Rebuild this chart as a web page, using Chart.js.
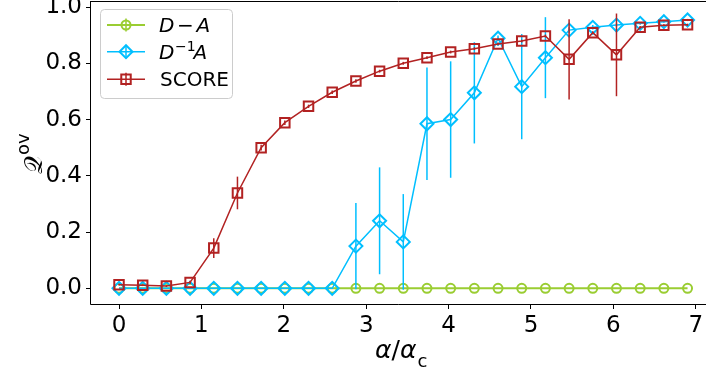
<!DOCTYPE html>
<html>
<head>
<meta charset="utf-8">
<script src="https://cdn.jsdelivr.net/npm/chart.js@4/dist/chart.umd.min.js"></script>
<style>
  html, body { margin: 0; padding: 0; background: #fff; }
  canvas { display: block; }
</style>
</head>
<body>
<canvas id="overlapChart" width="706" height="374"></canvas>
<script>
// alpha / alpha_c values (x positions of every sample)
const alphaRatio = [0, 0.2875, 0.575, 0.8625, 1.15, 1.4375, 1.725, 2.0125, 2.3, 2.5875,
  2.875, 3.1625, 3.45, 3.7375, 4.025, 4.3125, 4.6, 4.8875, 5.175, 5.4625,
  5.75, 6.0375, 6.325, 6.6125, 6.9];

// D - A
const laplacianQ = [0, 0, 0, 0, 0, 0, 0, 0, 0, 0, 0, 0, 0, 0, 0, 0, 0, 0, 0, 0, 0, 0, 0, 0, 0];
const laplacianErr = [0, 0, 0, 0, 0, 0, 0, 0, 0, 0, 0, 0, 0, 0, 0, 0, 0, 0, 0, 0, 0, 0, 0, 0, 0];

// D^-1 A
const randomWalkQ = [0, 0, 0, 0, 0, 0, 0, 0, 0, 0, 0.15, 0.24, 0.165, 0.585, 0.60, 0.695,
  0.889, 0.717, 0.82, 0.918, 0.928, 0.936, 0.942, 0.948, 0.954];
const randomWalkErr = [0, 0, 0, 0, 0, 0, 0, 0, 0, 0, 0.153, 0.19, 0.17, 0.20, 0.207, 0.18,
  0.01, 0.187, 0.144, 0.01, 0.008, 0.006, 0.005, 0.004, 0.004];

// SCORE
const scoreQ = [0.013, 0.011, 0.008, 0.021, 0.143, 0.339, 0.50, 0.589, 0.647, 0.697,
  0.737, 0.772, 0.80, 0.82, 0.84, 0.852, 0.869, 0.879, 0.897, 0.814,
  0.909, 0.83, 0.928, 0.935, 0.937];
const scoreErr = [0.003, 0.003, 0.003, 0.006, 0.035, 0.058, 0.01, 0.008, 0.006, 0.006,
  0.006, 0.005, 0.005, 0.005, 0.005, 0.005, 0.005, 0.005, 0.005, 0.143,
  0.005, 0.147, 0.005, 0.004, 0.004];

const xTicks = [0, 1, 2, 3, 4, 5, 6, 7];
const yTicks = [0, 0.2, 0.4, 0.6, 0.8, 1.0];

const GREEN = '#9acd32';
const BLUE = '#00bfff';
const RED = '#b22222';

function points(ys) {
  return alphaRatio.map((a, i) => ({ x: a, y: ys[i] }));
}

const seriesErr = [laplacianErr, randomWalkErr, scoreErr];

const data = {
  datasets: [{
    label: 'D − A',
    data: points(laplacianQ),
    borderColor: GREEN,
    borderWidth: 2,
    pointStyle: 'circle',
    pointRadius: 4.5,
    pointBorderWidth: 2,
    pointBorderColor: GREEN,
    pointBackgroundColor: 'rgba(0,0,0,0)',
    order: 3
  }, {
    label: 'D⁻¹A',
    data: points(randomWalkQ),
    borderColor: BLUE,
    borderWidth: 1.5,
    pointStyle: 'rectRot',
    pointRadius: 6.5,
    pointBorderWidth: 2,
    pointBorderColor: BLUE,
    pointBackgroundColor: 'rgba(0,0,0,0)',
    order: 2
  }, {
    label: 'SCORE',
    data: points(scoreQ),
    borderColor: RED,
    borderWidth: 1.5,
    pointStyle: 'rect',
    pointRadius: 6.7,
    pointBorderWidth: 2,
    pointBorderColor: RED,
    pointBackgroundColor: 'rgba(0,0,0,0)',
    order: 1
  }]
};

// vertical error bars, drawn just before each series
const errorBars = {
  id: 'errorBars',
  beforeDatasetDraw(chart, args) {
    const errs = seriesErr[args.index];
    const ds = chart.data.datasets[args.index];
    const xs = chart.scales.x, ys = chart.scales.y;
    const ctx = chart.ctx;
    ctx.save();
    ctx.beginPath();
    ctx.rect(chart.chartArea.left, chart.chartArea.top, chart.chartArea.width, chart.chartArea.height);
    ctx.clip();
    ctx.strokeStyle = ds.borderColor;
    ctx.lineWidth = 1.5;
    ds.data.forEach((p, i) => {
      const e = errs[i];
      if (!e) return;
      const px = xs.getPixelForValue(p.x);
      ctx.beginPath();
      ctx.moveTo(px, ys.getPixelForValue(p.y - e));
      ctx.lineTo(px, ys.getPixelForValue(p.y + e));
      ctx.stroke();
    });
    ctx.restore();
  }
};

function marker(ctx, style, x, y, r) {
  ctx.beginPath();
  if (style === 'circle') {
    ctx.arc(x, y, r, 0, Math.PI * 2);
  } else if (style === 'rectRot') {
    ctx.moveTo(x - r, y); ctx.lineTo(x, y - r); ctx.lineTo(x + r, y); ctx.lineTo(x, y + r); ctx.closePath();
  } else {
    const s = r * Math.SQRT1_2;
    ctx.rect(x - s, y - s, 2 * s, 2 * s);
  }
  ctx.stroke();
}

const decorations = {
  id: 'decorations',
  afterDraw(chart) {
    const ctx = chart.ctx;
    const a = chart.chartArea;
    ctx.save();
    // spines
    ctx.strokeStyle = '#000';
    ctx.lineWidth = 1;
    ctx.beginPath();
    ctx.moveTo(a.left - 0.5, a.top + 0.5);
    ctx.lineTo(a.right, a.top + 0.5);
    ctx.moveTo(a.left - 0.5, a.top);
    ctx.lineTo(a.left - 0.5, a.bottom + 0.5);
    ctx.lineTo(a.right, a.bottom + 0.5);
    ctx.stroke();

    // legend
    const lx = 100, ly = 9, lw = 132, lh = 89;
    ctx.fillStyle = 'rgba(255,255,255,0.8)';
    ctx.strokeStyle = '#cccccc';
    ctx.lineWidth = 1;
    ctx.beginPath();
    ctx.roundRect(lx + 0.5, ly + 0.5, lw, lh, 4);
    ctx.fill();
    ctx.stroke();

    const rowsY = [25, 51.7, 79.3];
    chart.data.datasets.forEach((ds, i) => {
      const cy = rowsY[i];
      ctx.strokeStyle = ds.borderColor;
      ctx.lineWidth = ds.borderWidth;
      ctx.beginPath();
      ctx.moveTo(107, cy); ctx.lineTo(145, cy);
      ctx.stroke();
      ctx.lineWidth = 1.5;
      ctx.beginPath();
      ctx.moveTo(126, cy - 6.5); ctx.lineTo(126, cy + 6.5);
      ctx.stroke();
      ctx.lineWidth = 2;
      marker(ctx, ds.pointStyle, 126, cy, ds.pointRadius);
    });

    ctx.fillStyle = '#000';
    ctx.textBaseline = 'alphabetic';
    ctx.textAlign = 'left';
    const it = 'oblique 20px "DejaVu Sans"';
    const up = '20px "DejaVu Sans"';
    // row 1: D − A
    ctx.font = it; ctx.fillText('D', 159, 31.7);
    ctx.font = up; ctx.fillText('−', 177, 31.7);
    ctx.font = it; ctx.fillText('A', 196.5, 31.7);
    // row 2: D^-1 A
    ctx.font = it; ctx.fillText('D', 159, 59.3);
    ctx.font = '14px "DejaVu Sans"'; ctx.fillText('−1', 175, 51);
    ctx.font = it; ctx.fillText('A', 193.5, 59.3);
    // row 3
    ctx.font = up; ctx.fillText('SCORE', 160, 86);

    // x label: alpha / alpha_c
    let x = 375;
    const big = 'oblique 25px "DejaVu Sans"';
    ctx.font = big; ctx.fillText('α', x, 357.5); x += ctx.measureText('α').width;
    ctx.font = '25px "DejaVu Sans"'; ctx.fillText('/', x, 357.5); x += ctx.measureText('/').width;
    ctx.font = big; ctx.fillText('α', x, 357.5); x += ctx.measureText('α').width + 1;
    ctx.font = '18px "DejaVu Sans"'; ctx.fillText('c', x, 367);

    // y label: Q^ov
    ctx.translate(42, 174);
    ctx.rotate(-Math.PI / 2);
    ctx.font = '25px "DejaVu Sans", "DejaVu Serif"';
    ctx.fillText('𝒬', 0, 0);
    const qw = ctx.measureText('𝒬').width;
    ctx.font = '18px "DejaVu Sans"';
    ctx.fillText('ov', qw + 1, -13);
    ctx.restore();
  }
};

const config = {
  type: 'line',
  data: data,
  options: {
    responsive: false,
    animation: false,
    devicePixelRatio: 1,
    layout: { autoPadding: false, padding: { top: 1, right: 0, left: 0, bottom: 0 } },
    plugins: {
      legend: { display: false },
      tooltip: { enabled: false }
    },
    elements: { line: { tension: 0 } },
    scales: {
      x: {
        type: 'linear',
        min: -0.34,
        max: 7.124,
        afterFit(scale) {
          scale.height = 70;
          scale.paddingLeft = 0;
          scale.paddingRight = 0;
        },
        afterBuildTicks(scale) { scale.ticks = xTicks.map(v => ({ value: v })); },
        grid: { drawOnChartArea: false, drawTicks: true, tickLength: 5, tickColor: '#000' },
        border: { display: false },
        ticks: {
          color: '#000',
          padding: 3,
          maxRotation: 0,
          font: { family: 'DejaVu Sans', size: 23 },
          callback: v => String(v)
        }
      },
      y: {
        type: 'linear',
        min: -0.0558,
        max: 1.0215,
        afterFit(scale) {
          scale.width = 91;
          scale.paddingTop = 0;
          scale.paddingBottom = 0;
        },
        afterBuildTicks(scale) { scale.ticks = yTicks.map(v => ({ value: v })); },
        grid: { drawOnChartArea: false, drawTicks: true, tickLength: 5, tickColor: '#000' },
        border: { display: false },
        ticks: {
          color: '#000',
          padding: 4,
          font: { family: 'DejaVu Sans', size: 23 },
          callback: v => v.toFixed(1)
        }
      }
    }
  },
  plugins: [errorBars, decorations]
};

const overlapChart = new Chart(document.getElementById('overlapChart'), config);
</script>
</body>
</html>
